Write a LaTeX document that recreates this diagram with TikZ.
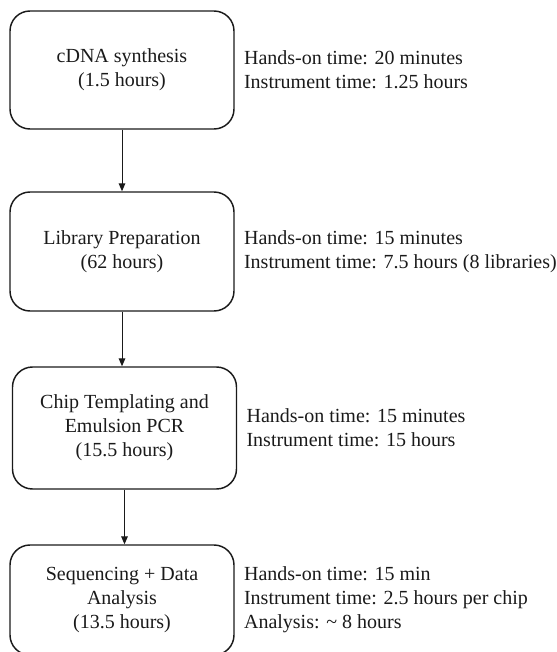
\documentclass[tikz,border=0pt]{standalone}
\usepackage{fontspec}
\setmainfont{Liberation Serif}
\usetikzlibrary{arrows.meta,positioning}
\definecolor{ink}{HTML}{1A1A1A}
\tikzset{
 stagebox/.style={draw=ink,line width=1.1pt,rounded corners=15pt,align=center,text=ink,minimum width=168pt,inner sep=0pt},
 notetext/.style={align=left,text=ink,inner sep=0pt,anchor=west},
 flow/.style={draw=ink,line width=0.75pt,-{Triangle[length=6pt,width=5pt]}}
}

\begin{document}
\begin{tikzpicture}[x=0.75pt,y=-0.75pt,font=\fontsize{15}{18}\selectfont]
\clip (0,0) rectangle (556,652);
% rows: box centre at (\xx,\yy) in pixels, box height \hh, note to its right
\foreach \i/\xx/\yy/\hh/\stage/\note in {
 1/122/70/118/{cDNA synthesis\\(1.5 hours)}/{Hands-on time: 20 minutes\\Instrument time: 1.25 hours},
 2/122/251.5/119/{Library Preparation\\(62 hours)}/{Hands-on time: 15 minutes\\Instrument time: 7.5 hours (8 libraries)},
 3/124.5/428/122/{Chip Templating and\\Emulsion PCR\\(15.5 hours)}/{Hands-on time: 15 minutes\\Instrument time: 15 hours},
 4/122/600/110/{Sequencing + Data\\Analysis\\(13.5 hours)}/{Hands-on time: 15 min\\Instrument time: 2.5 hours per chip\\Analysis: \textasciitilde{} 8 hours}} {
 \node[stagebox,minimum height={\hh*0.75pt}] (s\i) at (\xx,\yy) {\stage};
 \node[notetext,right=6.8pt of s\i] (n\i) {\note};
}
\foreach \a/\b in {1/2,2/3,3/4}
 \draw[flow] (s\a.south) -- (s\a.south |- s\b.north);
\end{tikzpicture}
\end{document}
